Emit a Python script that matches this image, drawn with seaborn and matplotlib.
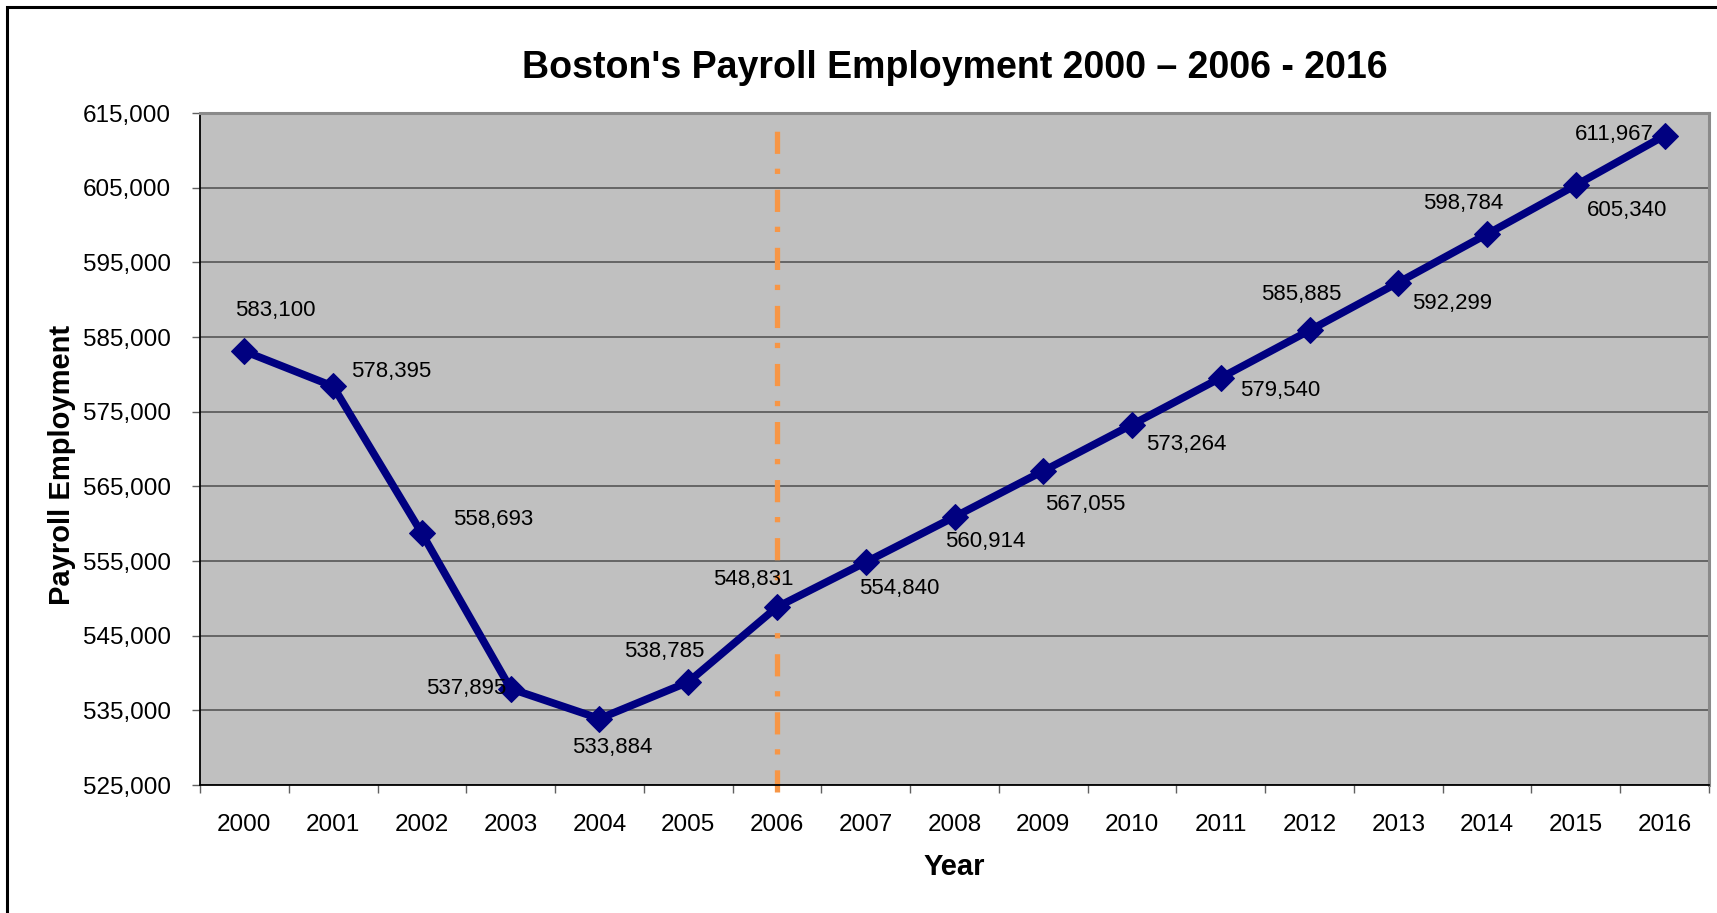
import pandas as pd
import matplotlib.pyplot as plt
import matplotlib.patches as mpatches
import seaborn as sns

# Data
years = [2000, 2001, 2002, 2003, 2004, 2005, 2006, 2007, 2008,
         2009, 2010, 2011, 2012, 2013, 2014, 2015, 2016]
jobs = [583100, 578395, 558693, 537895, 533884, 538785, 548831, 554840, 560914,
        567055, 573264, 579540, 585885, 592299, 598784, 605340, 611967]
y_ticks = list(range(525000, 615001, 10000))
split_year = 2006

title = "Boston's Payroll Employment 2000 \u2013 2006 - 2016"

# label offsets (points) so the value labels sit like in the original
label_offsets = [(22, 29), (42, 11), (51, 10), (-32, 0), (9, -21), (-17, 22),
                 (-17, 20), (24, -19), (22, -18), (30, -24), (39, -14), (43, -9),
                 (-6, 26), (39, -15), (-17, 22), (37, -18), (-36, 1)]

df = pd.DataFrame({"year": years, "jobs": jobs})

sns.set_style("white")
plt.rcParams["font.family"] = ["Liberation Sans", "DejaVu Sans"]
plt.rcParams["text.color"] = "black"
plt.rcParams["axes.labelcolor"] = "black"
plt.rcParams["xtick.color"] = "black"
plt.rcParams["ytick.color"] = "black"

fig = plt.figure(figsize=(17.17, 9.13), dpi=100)
ax = fig.add_axes([200 / 1717, 128 / 913, 1509 / 1717, 672 / 913])
ax.set_facecolor("#C0C0C0")

# outer frame (only left/top edges fall inside the picture)
fr_x, fr_top = 7 / 1717, 1 - 7 / 913
fig.patches.append(mpatches.Rectangle((fr_x, -0.1), 1.2, fr_top + 0.1,
                                      transform=fig.transFigure, fill=False,
                                      edgecolor="black", linewidth=2.2, clip_on=False))

ax.set_ylim(525000, 615000)
ax.set_xlim(years[0] - 0.5, years[-1] + 0.5)
ax.set_yticks(y_ticks)
ax.set_yticklabels([f"{v:,}" for v in y_ticks])
ax.yaxis.grid(True, color="#4d4d4d", linewidth=1.1)
ax.set_axisbelow(True)

# dash-dot marker for 2006
ax.axvline(split_year, ymin=-0.01, ymax=0.995, color="#F79646", linewidth=3.8,
           linestyle=(0, (4.2, 3.0, 1.0, 2.8)), clip_on=False, zorder=1)

sns.lineplot(data=df, x="year", y="jobs", ax=ax, color="#000080", linewidth=5.5,
             marker="D", markersize=13.5, markeredgecolor="#000080", zorder=3)

for yr, v, (dx, dy) in zip(years, jobs, label_offsets):
    ax.annotate(f"{v:,}", (yr, v), xytext=(dx, dy), textcoords="offset points",
                ha="center", va="center", fontsize=16, color="black", zorder=4)

# category ticks between years
ax.set_xticks(years)
ax.set_xticklabels([str(y) for y in years])
ax.set_xticks([y - 0.5 for y in years] + [years[-1] + 0.5], minor=True)
ax.tick_params(axis="x", which="major", length=0, pad=21, labelsize=17.5)
ax.tick_params(axis="x", which="minor", length=6, width=1, color="#606060", direction="out")
ax.tick_params(axis="y", length=6, width=1, color="#606060", direction="out",
               labelsize=17.5, pad=15)
ax.tick_params(left=True, bottom=True, which="both")

for side in ["left", "bottom"]:
    ax.spines[side].set_color("black")
    ax.spines[side].set_linewidth(1.3)
for side in ["top", "right"]:
    ax.spines[side].set_color("#8a8a8a")
    ax.spines[side].set_linewidth(2.2)

ax.set_xlabel("Year", fontsize=21, fontweight="bold", labelpad=12)
ax.set_ylabel("Payroll Employment", fontsize=21, fontweight="bold")
ax.yaxis.set_label_coords(-(200 - 76) / 1509, (913 - 465 - 128) / 672)

fig.text(955 / 1717, 1 - 68 / 913, title, ha="center", va="center",
         fontsize=27, fontweight="bold")

fig.savefig("out.png", dpi=100, facecolor="white")
